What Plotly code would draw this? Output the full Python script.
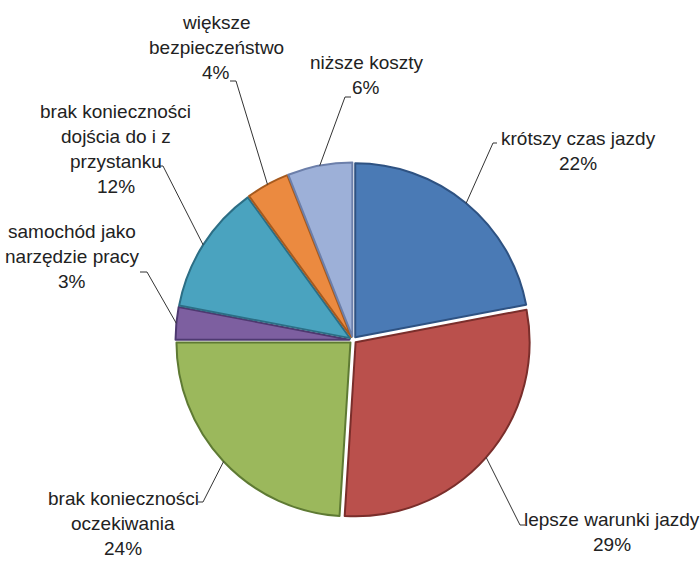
import math
import plotly.graph_objects as go

# ---- data ----
categories = [
    "krótszy czas jazdy",
    "lepsze warunki jazdy",
    "brak konieczności oczekiwania",
    "samochód jako narzędzie pracy",
    "brak konieczności dojścia do i z przystanku",
    "większe bezpieczeństwo",
    "niższe koszty",
]
values = [22, 29, 24, 3, 12, 4, 6]
label_lines = [
    ["krótszy czas jazdy"],
    ["lepsze warunki jazdy"],
    ["brak konieczności", "oczekiwania"],
    ["samochód jako", "narzędzie pracy"],
    ["brak konieczności", "dojścia do i z", "przystanku"],
    ["większe", "bezpieczeństwo"],
    ["niższe koszty"],
]

# ---- style / layout ----
W, H = 700, 563
CX, CY, R = 353, 340, 174
PULL = 0.02
fills = ["#4A7AB5", "#BA504C", "#9BB85C", "#7D5FA0", "#4AA3BF", "#EB8A40", "#9DB0D8"]
edges = ["#2E5282", "#7A2E2B", "#5E7A33", "#4E3970", "#2C6E85", "#A65A1E", "#6C7FAA"]
FONT = "Liberation Sans"
FSIZE = 19
LINE_GAP = 25
TXT = "#222222"

# label block placement: (centre x, first-line centre y), elbow point, tick end
label_pos = [(578, 139), (612, 519), (123, 498), (72, 231), (116, 111), (216, 23), (366, 62)]
elbow = [(493, 143), (520, 525), (203, 502), (147, 272), (163, 166), (236, 81), (345, 97)]
tick_end = [(497, 143), (525, 525), (198, 502), (140, 272), (157, 166), (230, 81), (351, 97)]

outer = R * (1 + PULL)
dom_x = [(CX - outer) / W, (CX + outer) / W]
dom_y = [1 - (CY + outer) / H, 1 - (CY - outer) / H]

fig = go.Figure(go.Pie(
    labels=categories,
    values=values,
    sort=False,
    direction="clockwise",
    rotation=0,
    pull=[PULL] * len(values),
    marker=dict(colors=fills, line=dict(color=edges, width=2)),
    textinfo="none",
    hoverinfo="label+percent",
    domain=dict(x=dom_x, y=dom_y),
    showlegend=False,
))

def px(x):
    return x / W

def py(y):
    return 1 - y / H

total = sum(values)
cum = 0
annotations = []
shapes = []
for i, v in enumerate(values):
    mid = (cum + v / 2) / total * 2 * math.pi
    cum += v
    ex = CX + outer * math.sin(mid)
    ey = CY - outer * math.cos(mid)
    (bx, by), (tx, ty) = elbow[i], tick_end[i]
    shapes.append(dict(
        type="path", xref="paper", yref="paper",
        path=f"M {px(ex)},{py(ey)} L {px(bx)},{py(by)} L {px(tx)},{py(ty)}",
        line=dict(color="#333333", width=1),
    ))
    pct = f"{round(v / total * 100)}%"
    lines = label_lines[i] + [pct]
    cx, y0 = label_pos[i]
    for k, t in enumerate(lines):
        annotations.append(dict(
            x=px(cx), y=py(y0 + k * LINE_GAP), xref="paper", yref="paper",
            text=t, showarrow=False, xanchor="center", yanchor="middle",
            font=dict(family=FONT, size=FSIZE, color=TXT),
        ))

fig.update_layout(
    width=W, height=H,
    margin=dict(l=0, r=0, t=0, b=0),
    paper_bgcolor="white", plot_bgcolor="white",
    annotations=annotations, shapes=shapes,
)

fig.write_html("out.html")
